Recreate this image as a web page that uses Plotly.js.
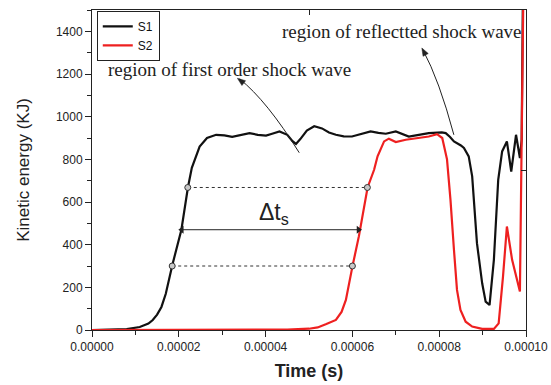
<!DOCTYPE html>
<html>
<head>
<meta charset="utf-8">
<script src="https://cdn.plot.ly/plotly-3.0.1.min.js"></script>
<style>html,body{margin:0;padding:0;background:#fff;}#chart{width:551px;height:385px;}</style>
</head>
<body>
<div id="chart"></div>
<script>
// Time (s) and kinetic energy (KJ)
var s1Time = [0, 0.5e-5, 0.8e-5, 1.1e-5, 1.3e-5, 1.4e-5, 1.5e-5, 1.6e-5, 1.7e-5, 1.85e-5, 2.06e-5, 2.21e-5, 2.3e-5, 2.48e-5, 2.65e-5, 2.86e-5, 3.05e-5, 3.23e-5, 3.43e-5, 3.63e-5, 3.82e-5, 4.01e-5, 4.15e-5, 4.32e-5, 4.5e-5, 4.62e-5, 4.70e-5, 4.8e-5, 4.95e-5, 5.12e-5, 5.3e-5, 5.46e-5, 5.62e-5, 5.8e-5, 5.99e-5, 6.2e-5, 6.42e-5, 6.6e-5, 6.77e-5, 7.0e-5, 7.15e-5, 7.3e-5, 7.53e-5, 7.76e-5, 8.06e-5, 8.15e-5, 8.25e-5, 8.34e-5, 8.5e-5, 8.57e-5, 8.68e-5, 8.76e-5, 8.87e-5, 8.99e-5, 9.07e-5, 9.16e-5, 9.26e-5, 9.36e-5, 9.45e-5, 9.56e-5, 9.66e-5, 9.77e-5, 9.86e-5, 9.90e-5, 9.93e-5];
var s1Energy = [0, 1, 4, 14, 30, 47, 72, 108, 170, 304, 470, 668, 760, 860, 900, 915, 912, 905, 915, 923, 915, 911, 920, 931, 915, 885, 872, 895, 935, 955, 945, 926, 915, 908, 907, 918, 931, 924, 920, 931, 918, 907, 915, 923, 926, 923, 905, 884, 865, 853, 814, 720, 407, 219, 133, 117, 329, 704, 837, 884, 743, 915, 806, 892, 1600];

var s2Time = [0, 2e-5, 3.5e-5, 4.5e-5, 5.0e-5, 5.2e-5, 5.4e-5, 5.62e-5, 5.75e-5, 5.85e-5, 6.0e-5, 6.15e-5, 6.35e-5, 6.5e-5, 6.58e-5, 6.73e-5, 6.84e-5, 7.0e-5, 7.23e-5, 7.53e-5, 7.76e-5, 7.95e-5, 8.07e-5, 8.18e-5, 8.26e-5, 8.34e-5, 8.41e-5, 8.49e-5, 8.61e-5, 8.76e-5, 8.99e-5, 9.26e-5, 9.37e-5, 9.47e-5, 9.56e-5, 9.68e-5, 9.86e-5, 9.94e-5];
var s2Energy = [0, 0, 0, 2, 6, 12, 28, 47, 85, 141, 297, 440, 668, 751, 814, 884, 897, 881, 892, 900, 907, 918, 900, 800, 610, 376, 188, 94, 39, 16, 5, 5, 31, 250, 485, 329, 180, 1600];

// Reference points of the delta-t construction
var upperLevelTime = [2.207e-5, 6.345e-5];
var upperLevelEnergy = [668, 668];
var lowerLevelTime = [1.848e-5, 6.00e-5];
var lowerLevelEnergy = [300, 300];
var deltaTTime = [2.07e-5, 6.14e-5];
var deltaTEnergy = [470, 470];

var xTickVals = [0, 2e-5, 4e-5, 6e-5, 8e-5, 1e-4];
var xTickText = ['0.00000', '0.00002', '0.00004', '0.00006', '0.00008', '0.00010'];
var yTickVals = [0, 200, 400, 600, 800, 1000, 1200, 1400];

var traces = [
  {x: s1Time, y: s1Energy, name: 'S1', mode: 'lines', line: {color: '#111111', width: 2.2}},
  {x: s2Time, y: s2Energy, name: 'S2', mode: 'lines', line: {color: '#ee2020', width: 2.2}},
  {x: upperLevelTime, y: upperLevelEnergy, mode: 'lines+markers', showlegend: false,
   line: {color: '#333', width: 1, dash: 'dot'},
   marker: {symbol: 'circle', size: 6, color: '#c8c8c8', line: {color: '#333', width: 1}}},
  {x: lowerLevelTime, y: lowerLevelEnergy, mode: 'lines+markers', showlegend: false,
   line: {color: '#333', width: 1, dash: 'dot'},
   marker: {symbol: 'circle', size: 6, color: '#c8c8c8', line: {color: '#333', width: 1}}},
  {x: deltaTTime, y: deltaTEnergy, mode: 'lines+markers', showlegend: false,
   line: {color: '#222', width: 1},
   marker: {symbol: ['triangle-left', 'triangle-right'], size: 7, color: '#222', line: {width: 0}}},
  {x: [], y: [], xaxis: 'x2', yaxis: 'y2', showlegend: false, hoverinfo: 'skip'}
];

var tickFont = {family: 'Liberation Sans, Arial, sans-serif', size: 12, color: '#222'};
var serif = {family: 'Liberation Serif, Times New Roman, serif', size: 19, color: '#222'};

var layout = {
  width: 551, height: 385,
  margin: {l: 92, r: 25, t: 10, b: 55},
  paper_bgcolor: '#fff', plot_bgcolor: '#fff',
  showlegend: true,
  legend: {x: 0.011, y: 0.997, xanchor: 'left', yanchor: 'top', bgcolor: '#fff',
           bordercolor: '#222', borderwidth: 1,
           font: {family: 'Liberation Sans, Arial, sans-serif', size: 12, color: '#111'},
           tracegroupgap: 0, itemwidth: 30},
  xaxis: {range: [0, 1e-4], tickvals: xTickVals, ticktext: xTickText, ticks: 'outside', ticklen: 6,
          tickcolor: '#222', showline: true, linecolor: '#222', linewidth: 1, showgrid: false, zeroline: false,
          tickfont: tickFont,
          minor: {dtick: 1e-5, ticks: 'outside', ticklen: 4, tickcolor: '#222', showgrid: false},
          title: {text: '<b>Time (s)</b>', font: {family: 'Liberation Sans, Arial, sans-serif', size: 18, color: '#222'}, standoff: 10}},
  yaxis: {range: [0, 1500], tickvals: yTickVals, ticks: 'outside', ticklen: 6,
          tickcolor: '#222', showline: true, linecolor: '#222', linewidth: 1, showgrid: false, zeroline: false,
          tickfont: tickFont,
          minor: {dtick: 100, ticks: 'outside', ticklen: 4, tickcolor: '#222', showgrid: false},
          title: {text: 'Kinetic energy (KJ)', font: {family: 'Liberation Sans, Arial, sans-serif', size: 17, color: '#222'}, standoff: 21}},
  xaxis2: {overlaying: 'x', side: 'top', range: [0, 1e-4], dtick: 5e-5, ticks: 'inside', ticklen: 5,
           tickcolor: '#222', showticklabels: false, showline: true, linecolor: '#222', linewidth: 1,
           showgrid: false, zeroline: false},
  yaxis2: {overlaying: 'y', side: 'right', range: [0, 1500], dtick: 750, ticks: 'inside', ticklen: 5,
           tickcolor: '#222', showticklabels: false, showline: true, linecolor: '#222', linewidth: 1,
           showgrid: false, zeroline: false},
  shapes: [
    {type: 'path', xref: 'x', yref: 'y', path: 'M 4.775e-5 831 Q 4.028e-5 1075 3.40e-5 1177', line: {color: '#222', width: 1}},
    {type: 'path', xref: 'x', yref: 'y', path: 'M 3.35e-5 1180 L 3.538e-5 1168.6 L 3.455e-5 1146 Z',
     fillcolor: '#222', line: {color: '#222', width: 0.5}},
    {type: 'path', xref: 'x', yref: 'y', path: 'M 8.338e-5 915 Q 8.0e-5 1172 7.62e-5 1315', line: {color: '#222', width: 1}},
    {type: 'path', xref: 'x', yref: 'y', path: 'M 7.6e-5 1322 L 7.748e-5 1295.8 L 7.628e-5 1282.7 Z',
     fillcolor: '#222', line: {color: '#222', width: 0.5}}
  ],
  annotations: [
    {x: 3.166e-5, y: 1222, xref: 'x', yref: 'y', text: 'region of first order shock wave', showarrow: false,
     xanchor: 'center', yanchor: 'middle', font: serif},
    {x: 7.14e-5, y: 1397, xref: 'x', yref: 'y', text: 'region of reflectted shock wave', showarrow: false,
     xanchor: 'center', yanchor: 'middle', font: serif},
    {x: 4.2e-5, y: 545, xref: 'x', yref: 'y', text: 'Δt<sub>s</sub>', showarrow: false,
     xanchor: 'center', yanchor: 'middle', font: {family: 'Liberation Sans, Arial, sans-serif', size: 23, color: '#222'}}
  ]
};

Plotly.newPlot('chart', traces, layout, {displayModeBar: false, staticPlot: true});
</script>
</body>
</html>
